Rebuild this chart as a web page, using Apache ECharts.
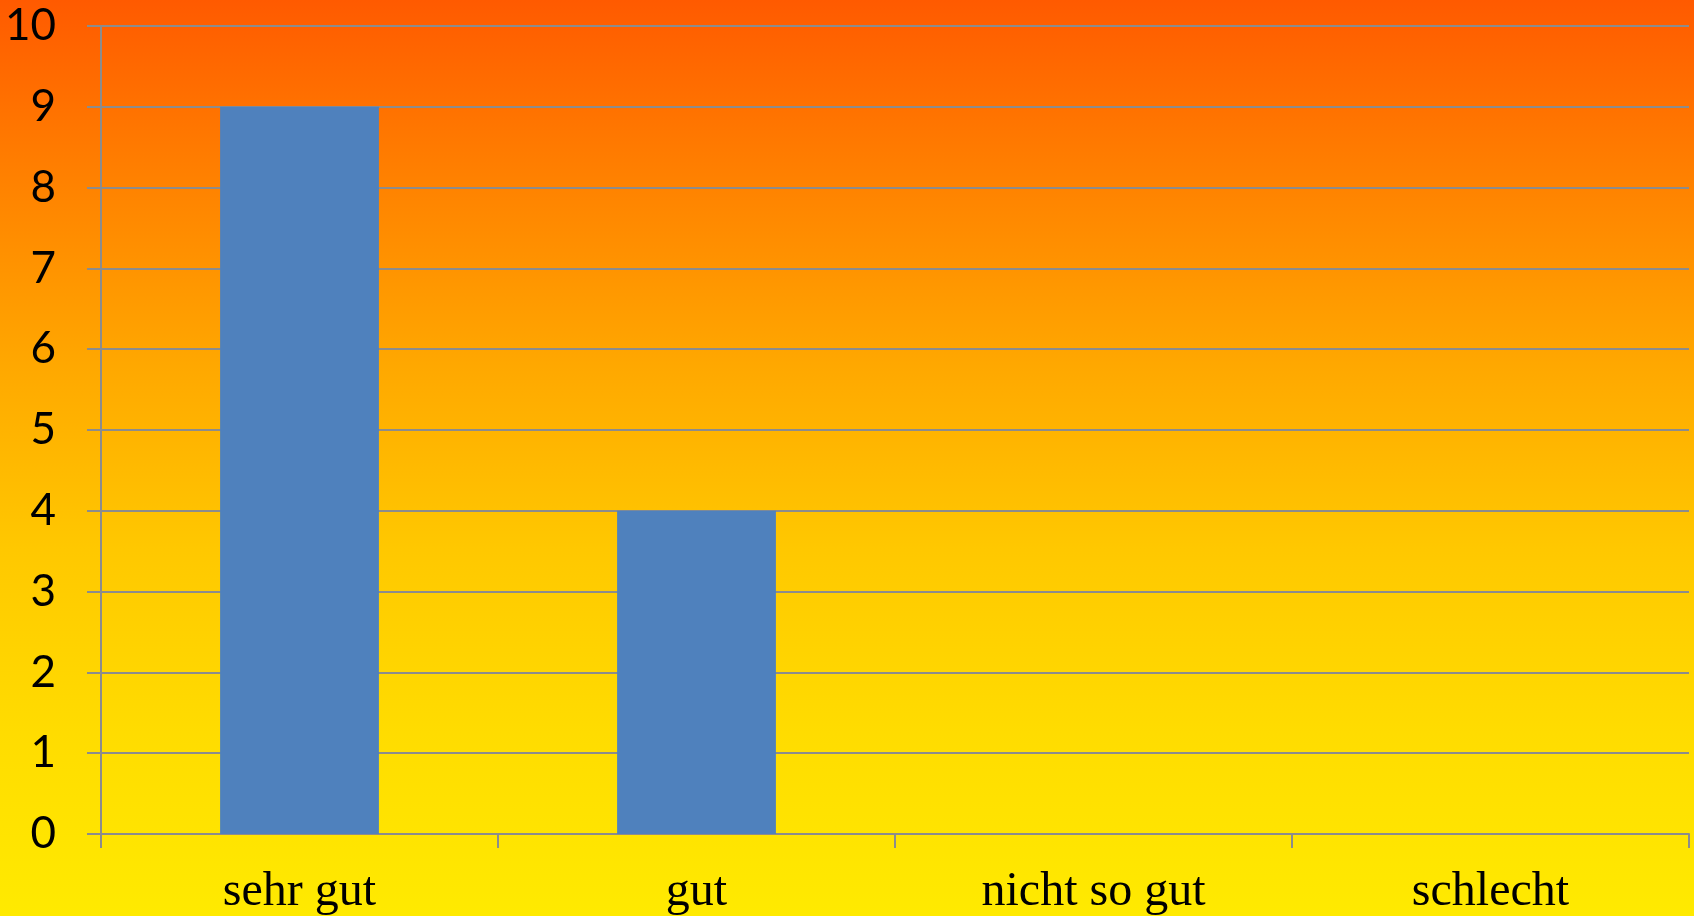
<!DOCTYPE html>
<html>
<head>
<meta charset="utf-8">
<script src="https://cdn.jsdelivr.net/npm/echarts@6/dist/echarts.min.js"></script>
<style>
html,body{margin:0;padding:0;width:1694px;height:916px;overflow:hidden;}
#c{width:1694px;height:916px;}
</style>
</head>
<body>
<div id="c"></div>
<script>
const categories = ['sehr gut', 'gut', 'nicht so gut', 'schlecht'];
const values = [9, 4, 0, 0];
const yTicks = [0, 10, 1]; // min, max, interval

const chart = echarts.init(document.getElementById('c'));
chart.setOption({
  animation: false,
  backgroundColor: {
    type: 'linear', x: 0, y: 0, x2: 0, y2: 1,
    colorStops: [
      {offset: 0, color: '#ff5a00'},
      {offset: 0.2, color: '#ff8200'},
      {offset: 0.4, color: '#ffa800'},
      {offset: 0.6, color: '#ffc800'},
      {offset: 0.8, color: '#ffdc00'},
      {offset: 1, color: '#ffea00'}
    ]
  },
  grid: {left: 101, right: 5, top: 26, bottom: 82, containLabel: false},
  xAxis: {
    type: 'category',
    data: categories,
    axisLine: {show: true, lineStyle: {color: '#8c8c8c', width: 2}},
    axisTick: {show: true, length: 14, alignWithLabel: false, lineStyle: {color: '#8c8c8c', width: 2}},
    axisLabel: {
      margin: 34,
      color: '#000',
      fontFamily: '"Liberation Serif", "Times New Roman", serif',
      fontSize: 48,
      interval: 0
    },
    splitLine: {show: false}
  },
  yAxis: {
    type: 'value',
    min: yTicks[0], max: yTicks[1], interval: yTicks[2],
    axisLine: {show: true, lineStyle: {color: '#8c8c8c', width: 2}},
    axisTick: {show: true, length: 14, lineStyle: {color: '#8c8c8c', width: 2}},
    axisLabel: {
      margin: 45,
      color: '#000',
      fontFamily: 'Lato, "Open Sans", sans-serif',
      fontSize: 44
    },
    splitLine: {show: true, lineStyle: {color: '#8c8c8c', width: 2}}
  },
  series: [{
    type: 'bar',
    data: values,
    barWidth: '40%',
    itemStyle: {color: '#4f81bd'}
  }]
});
</script>
</body>
</html>
